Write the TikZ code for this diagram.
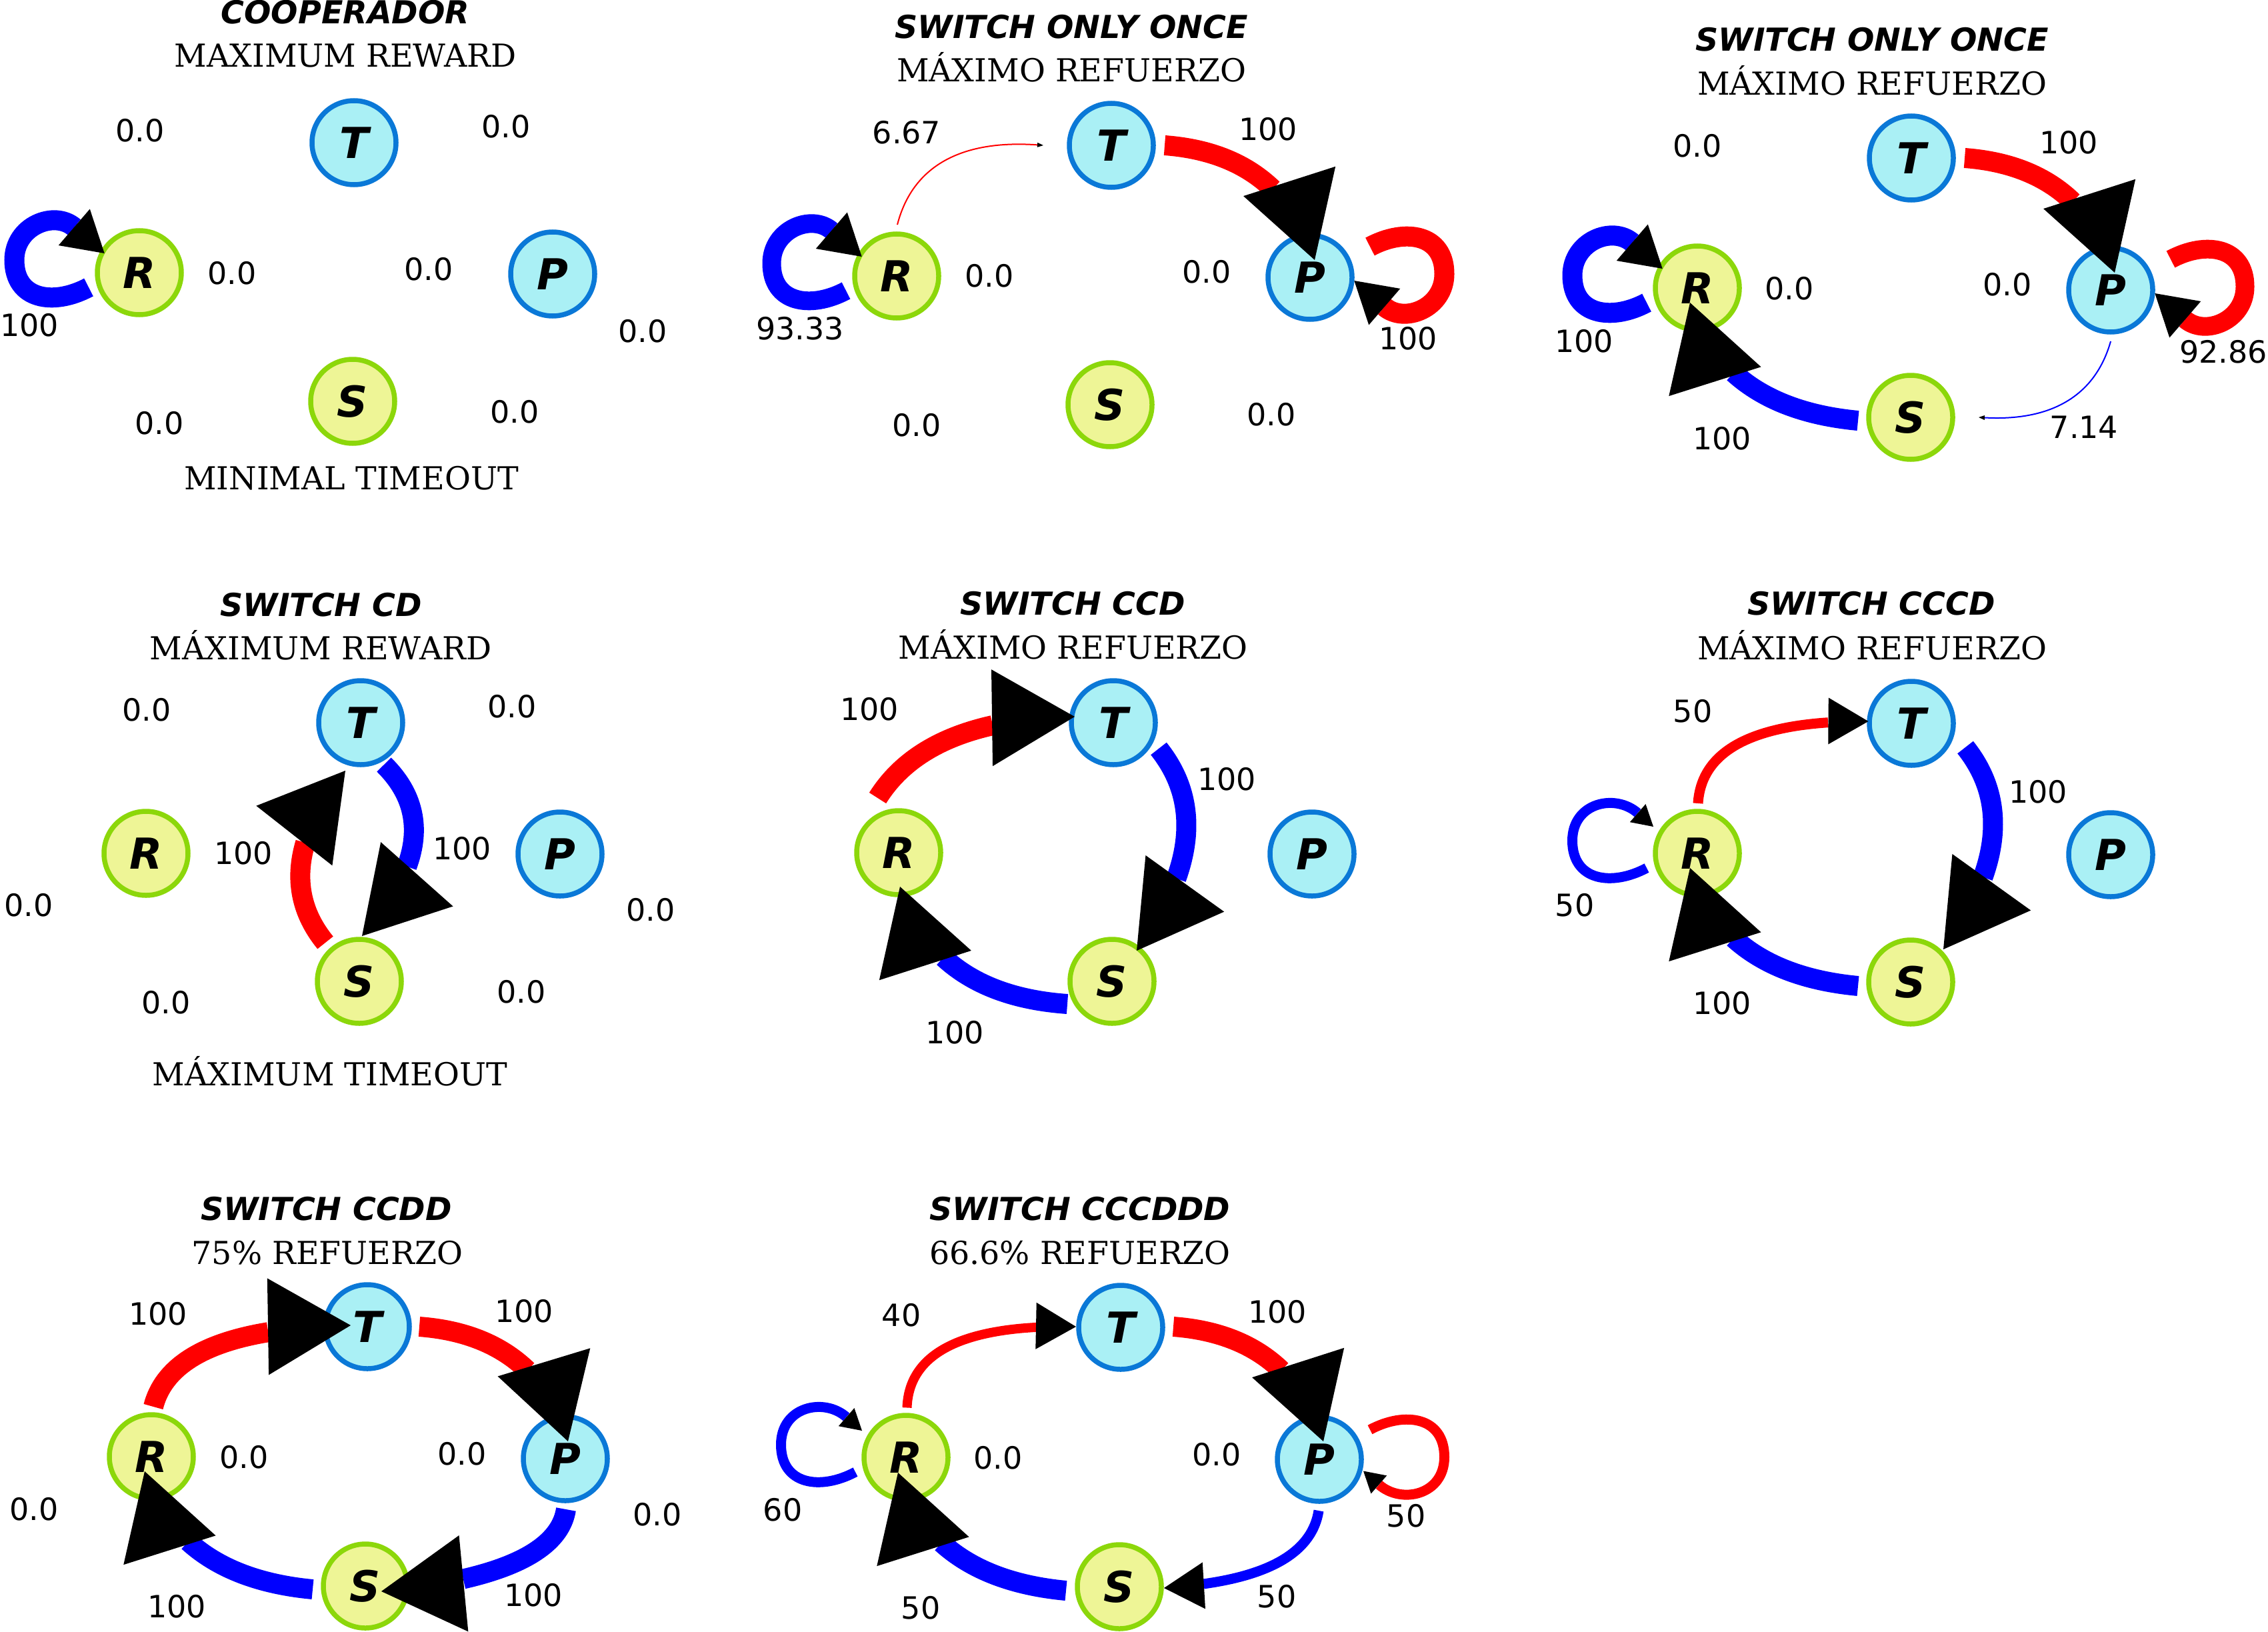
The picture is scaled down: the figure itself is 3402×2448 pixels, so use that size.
\documentclass[tikz,border=0pt]{standalone}
\usepackage{fontspec}
\setmainfont{DejaVu Serif}
\newfontfamily\dvsans{DejaVu Sans}
\newfontfamily\dvserif{DejaVu Serif}
\usetikzlibrary{arrows.meta,calc}
\definecolor{tpf}{RGB}{170,240,245}
\definecolor{tpb}{RGB}{10,120,215}
\definecolor{srf}{RGB}{238,245,150}
\definecolor{srb}{RGB}{140,215,10}
\definecolor{ered}{RGB}{255,0,0}
\definecolor{eblue}{RGB}{0,0,255}
\tikzset{
  nd/.style={circle, line width=7.5pt, minimum size=126pt, inner sep=0pt, font=\fontsize{64}{77}\dvsans\bfseries\itshape},
  tp/.style={nd, draw=tpb, fill=tpf},
  sr/.style={nd, draw=srb, fill=srf},
  num/.style={inner sep=0pt, font=\fontsize{46}{55}\dvsans},
  ttl/.style={inner sep=0pt, anchor=base, font=\fontsize{47.5}{57}\dvsans\bfseries\itshape},
  sub/.style={inner sep=0pt, anchor=base, font=\fontsize{47.5}{57}\dvserif},
  re/.style={draw=ered, line width=#1},
  be/.style={draw=eblue, line width=#1},
  arr/.style={draw=black, line width=0.4pt},
  tipbig/.style={-{Triangle[length=124pt, width=145pt, line width=0pt, color=black]}},
  tipmid/.style={-{Triangle[length=60pt, width=70pt, line width=0pt, color=black]}},
  tiploop/.style={-{Triangle[length=60pt, width=72pt, line width=0pt, color=black]}},
  tipsmall/.style={-{Triangle[length=31pt, width=36pt, line width=0pt, color=black]}},
  tiptiny/.style={-{Triangle[length=9pt, width=7pt, line width=0pt, color=black]}},
}
% left self-loop at R
\newcommand\lloopbig[2]{%
 \draw[be=#2] ($(#1)+(-76,22)$) .. controls ($(#1)+(-128.8,50.2)$) and ($(#1)+(-187.5,41)$) .. ($(#1)+(-187.5,-19)$) .. controls ($(#1)+(-187.5,-70)$) and ($(#1)+(-127.7,-94.2)$) .. ($(#1)+(-97.5,-68)$);
 \draw[arr, tiploop] ($(#1)+(-97.5,-68)$) -- ($(#1)+(-52.3,-29)$);}
\newcommand\lloopsmall[2]{%
 \draw[be=#2] ($(#1)+(-76,22)$) .. controls ($(#1)+(-128.8,50.2)$) and ($(#1)+(-187.5,41)$) .. ($(#1)+(-187.5,-19)$) .. controls ($(#1)+(-187.5,-76)$) and ($(#1)+(-123.3,-90.2)$) .. ($(#1)+(-89.5,-60.5)$);
 \draw[arr, tipsmall] ($(#1)+(-89.5,-60.5)$) -- ($(#1)+(-66,-40)$);}
% right self-loop at P
\newcommand\rloopbig[2]{%
 \draw[re=#2] ($(#1)+(90,-46)$) .. controls ($(#1)+(142.8,-74.2)$) and ($(#1)+(201.5,-65)$) .. ($(#1)+(201.5,-5)$) .. controls ($(#1)+(201.5,46)$) and ($(#1)+(141.7,70.2)$) .. ($(#1)+(111.5,44)$);
 \draw[arr, tiploop] ($(#1)+(111.5,44)$) -- ($(#1)+(66.3,5)$);}
\newcommand\rloopsmall[2]{%
 \draw[re=#2] ($(#1)+(76,-44.5)$) .. controls ($(#1)+(128.8,-72.7)$) and ($(#1)+(187.5,-63.5)$) .. ($(#1)+(187.5,-3.5)$) .. controls ($(#1)+(187.5,53.5)$) and ($(#1)+(123.3,67.7)$) .. ($(#1)+(89.5,38)$);
 \draw[arr, tipsmall] ($(#1)+(89.5,38)$) -- ($(#1)+(66,17.5)$);}
\begin{document}
\begin{tikzpicture}[x=1pt,y=-1pt]
\fill[white] (0,0) rectangle (3402,2448);
\useasboundingbox (0,0) rectangle (3402,2448);

% ---------------- Panel 1 ----------------
\node[ttl] (t1) at (518,36) {COOPERADOR};
\node[sub] (s1) at (518,101) {MAXIMUM REWARD};
\node[sub] (b1) at (527,734) {MINIMAL TIMEOUT};
\node[tp] (T1) at (531,214) {T};
\node[sr] (R1) at (209,409) {R};
\node[tp] (P1) at (829,411) {P};
\node[sr] (S1) at (529,602) {S};
\lloopbig{R1}{30pt}
\node[num] (l1a) at (210,196) {0.0};
\node[num] (l1b) at (759,190) {0.0};
\node[num] (l1c) at (348,410) {0.0};
\node[num] (l1d) at (643,404) {0.0};
\node[num] (l1e) at (964,497) {0.0};
\node[num] (l1f) at (239,635) {0.0};
\node[num] (l1g) at (772,618) {0.0};
\node[num] (l1h) at (44,488) {100};

% ---------------- Panel 2 ----------------
\node[ttl] (t2) at (1607,58) {SWITCH ONLY ONCE};
\node[sub] (s2) at (1607,123) {MÁXIMO REFUERZO};
\node[tp] (T2) at (1667,218) {T};
\node[sr] (R2) at (1345,414) {R};
\node[tp] (P2) at (1965,416) {P};
\node[sr] (S2) at (1665,607) {S};
\lloopbig{R2}{28pt}
\draw[re=2pt, tiptiny] ($(R2)+(1,-77)$) .. controls (1368.7,249) and (1441.7,209.3) .. ($(T2)+(-102,0)$);
\draw[re=30pt] ($(T2)+(80,0)$) .. controls (1815.1,223.1) and (1869.1,244.9) .. (1909.1,283.6);
\draw[arr, tipbig] (1934.1,271.9) -- ($(P2)+(7,-26)$);
\rloopbig{P2}{30pt}
\node[num] (l2a) at (1360,199) {6.67};
\node[num] (l2b) at (1902,194) {100};
\node[num] (l2c) at (1484,414) {0.0};
\node[num] (l2d) at (1810,408) {0.0};
\node[num] (l2e) at (1200,493) {93.33};
\node[num] (l2f) at (2112,508) {100};
\node[num] (l2g) at (1375,638) {0.0};
\node[num] (l2h) at (1907,622) {0.0};

% ---------------- Panel 3 ----------------
\node[ttl] (t3) at (2808,76.5) {SWITCH ONLY ONCE};
\node[sub] (s3) at (2808,142.5) {MÁXIMO REFUERZO};
\node[tp] (T3) at (2867,237) {T};
\node[sr] (R3) at (2546,432) {R};
\node[tp] (P3) at (3166,435) {P};
\node[sr] (S3) at (2866,626) {S};
\lloopbig{R3}{30pt}
\draw[re=30pt] ($(T3)+(80,0)$) .. controls (3015.1,242.1) and (3069.1,263.9) .. (3109.1,302.6);
\draw[arr, tipbig] (3134.1,290.9) -- ($(P3)+(6,-26)$);
\rloopbig{P3}{28pt}
\draw[be=30pt] ($(S3)+(-79,5)$) .. controls (2706.9,623.5) and (2644.6,599.5) .. (2600.3,559.1);
\draw[arr, tipbig] (2572.4,572.2) -- ($(R3)+(-11,22)$);
\draw[be=2pt, tiptiny] ($(P3)+(0,77)$) .. controls (3142.7,594) and (3076.7,632) .. ($(S3)+(102,0)$);
\node[num] (l3a) at (2546,219) {0.0};
\node[num] (l3b) at (3103,214) {100};
\node[num] (l3c) at (2684,433) {0.0};
\node[num] (l3d) at (3011,427) {0.0};
\node[num] (l3e) at (2376,512) {100};
\node[num] (l3f) at (3335,528) {92.86};
\node[num] (l3g) at (2583,658) {100};
\node[num] (l3h) at (3126,641) {7.14};

% ---------------- Panel 4 ----------------
\node[ttl] (t4) at (481.5,924) {SWITCH CD};
\node[sub] (s4) at (481,989) {MÁXIMUM REWARD};
\node[sub] (b4) at (495,1628) {MÁXIMUM TIMEOUT};
\node[tp] (T4) at (541,1084) {T};
\node[sr] (R4) at (219,1280) {R};
\node[tp] (P4) at (840,1281) {P};
\node[sr] (S4) at (539,1472) {S};
\draw[re=30pt] ($(S4)+(-51,-58)$) .. controls (451.6,1369.4) and (441.6,1319.3) .. (458.1,1264);
\draw[arr, tipbig] (441.4,1253.5) -- ($(T4)+(-23,72)$);
\draw[be=30pt] ($(T4)+(35,63)$) .. controls (620.4,1191) and (631.8,1241.9) .. (610.3,1299.8);
\draw[arr, tipbig] (625.4,1311.3) -- ($(S4)+(4,-68)$);
\node[num] (l4a) at (220,1065) {0.0};
\node[num] (l4b) at (768,1060) {0.0};
\node[num] (l4c) at (365,1280) {100};
\node[num] (l4d) at (693,1273) {100};
\node[num] (l4e) at (43,1358) {0.0};
\node[num] (l4f) at (976,1365) {0.0};
\node[num] (l4g) at (249,1504) {0.0};
\node[num] (l4h) at (782,1488) {0.0};

% ---------------- Panel 5 ----------------
\node[ttl] (t5) at (1609,922) {SWITCH CCD};
\node[sub] (s5) at (1609.5,988) {MÁXIMO REFUERZO};
\node[tp] (T5) at (1670,1084) {T};
\node[sr] (R5) at (1348,1279) {R};
\node[tp] (P5) at (1968,1281) {P};
\node[sr] (S5) at (1668,1472) {S};
\draw[re=30pt] ($(R5)+(-31.5,-82)$) .. controls (1350.8,1142.3) and (1408.3,1105.9) .. (1489.1,1088);
\draw[arr, tipbig] (1488,1076.7) -- ($(T5)+(-58,-9)$);
\draw[be=30pt] ($(T5)+(68,39)$) .. controls (1782.3,1178.7) and (1791.1,1243.6) .. (1764.4,1317.8);
\draw[arr, tipbig] (1777.3,1325.3) -- ($(S5)+(37,-46)$);
\draw[be=30pt] ($(S5)+(-67,34)$) .. controls (1521.4,1500.4) and (1459.5,1477.1) .. (1415.2,1436);
\draw[arr, tipbig] (1387.9,1448.1) -- ($(R5)+(2,51)$);
\node[num] (l5a) at (1304,1064) {100};
\node[num] (l5b) at (1840,1169) {100};
\node[num] (l5c) at (1432,1549) {100};

% ---------------- Panel 6 ----------------
\node[ttl] (t6) at (2807,922) {SWITCH CCCD};
\node[sub] (s6) at (2808,989) {MÁXIMO REFUERZO};
\node[tp] (T6) at (2867,1085) {T};
\node[sr] (R6) at (2546,1280) {R};
\node[tp] (P6) at (3166,1282) {P};
\node[sr] (S6) at (2866,1473) {S};
\lloopsmall{R6}{15pt}
\draw[re=15pt] ($(R6)+(1,-75)$) .. controls (2551.6,1132.5) and (2616.7,1092.1) .. (2742.1,1083.7);
\draw[arr, tipmid] (2741.5,1081.5) -- ($(T6)+(-64.5,-3)$);
\draw[be=30pt] ($(T6)+(81,36)$) .. controls (2992.3,1176.7) and (3001.1,1241.6) .. (2974.4,1315.8);
\draw[arr, tipbig] (2987.3,1323.3) -- ($(S6)+(49,-49)$);
\draw[be=30pt] ($(S6)+(-79,6)$) .. controls (2706.9,1471.5) and (2644.6,1447.5) .. (2600.3,1407.1);
\draw[arr, tipbig] (2572.4,1420.2) -- ($(R6)+(-11,22)$);
\node[num] (l6a) at (2539,1067) {50};
\node[num] (l6b) at (3057,1188) {100};
\node[num] (l6c) at (2362,1358) {50};
\node[num] (l6d) at (2583,1505) {100};

% ---------------- Panel 7 ----------------
\node[ttl] (t7) at (489.6,1830) {SWITCH CCDD};
\node[sub] (s7) at (491,1896) {75\% REFUERZO};
\node[tp] (T7) at (551,1990) {T};
\node[sr] (R7) at (227,2185) {R};
\node[tp] (P7) at (848,2188) {P};
\node[sr] (S7) at (548,2379) {S};
\draw[re=30pt] ($(R7)+(3,-75)$) .. controls (244.7,2052) and (302.2,2014.7) .. (402.4,1998.2);
\draw[arr, tipbig] (402,1989.9) -- ($(T7)+(-25,-2)$);
\draw[re=30pt] ($(T7)+(78,0)$) .. controls (697.1,1995.1) and (751.1,2016.9) .. (791.1,2055.6);
\draw[arr, tipbig] (816.1,2043.9) -- ($(P7)+(4,-26)$);
\draw[be=30pt] ($(P7)+(1,76)$) .. controls (841.7,2311.8) and (790.3,2346.7) .. (694.8,2368.5);
\draw[arr, tipbig] (695.4,2375.2) -- ($(S7)+(24,8)$);
\draw[be=30pt] ($(S7)+(-79,5)$) .. controls (388.9,2376.5) and (326.6,2352.5) .. (282.3,2312.1);
\draw[arr, tipbig] (254.4,2325.2) -- ($(R7)+(-10,22)$);
\node[num] (l7a) at (237,1971) {100};
\node[num] (l7b) at (786,1967) {100};
\node[num] (l7c) at (366,2186) {0.0};
\node[num] (l7d) at (693,2181) {0.0};
\node[num] (l7e) at (51,2264) {0.0};
\node[num] (l7f) at (986,2272) {0.0};
\node[num] (l7g) at (265,2410) {100};
\node[num] (l7h) at (800,2393) {100};

% ---------------- Panel 8 ----------------
\node[ttl] (t8) at (1620,1830) {SWITCH CCCDDD};
\node[sub] (s8) at (1620,1896) {66.6\% REFUERZO};
\node[tp] (T8) at (1681,1991) {T};
\node[sr] (R8) at (1359,2186) {R};
\node[tp] (P8) at (1979,2189) {P};
\node[sr] (S8) at (1679,2380) {S};
\lloopsmall{R8}{15pt}
\draw[re=14pt] ($(R8)+(1.5,-74.5)$) .. controls (1363.1,2038) and (1427.7,1997.8) .. (1554.3,1990.9);
\draw[arr, tipmid] (1554,1988.8) -- ($(T8)+(-67,-1)$);
\draw[re=30pt] ($(T8)+(79,-1)$) .. controls (1828.1,1995.1) and (1882.1,2016.9) .. (1922.1,2055.6);
\draw[arr, tipbig] (1947.1,2043.9) -- ($(P8)+(6,-27)$);
\rloopsmall{P8}{15pt}
\draw[be=15pt] ($(P8)+(-1,77)$) .. controls (1968.9,2324.5) and (1911.3,2361.2) .. (1805.3,2375.9);
\draw[arr, tipmid] (1805.9,2378.4) -- ($(S8)+(67,2)$);
\draw[be=30pt] ($(S8)+(-80,6)$) .. controls (1518.9,2378.5) and (1456.6,2354.5) .. (1412.3,2314.1);
\draw[arr, tipbig] (1384.4,2327.2) -- ($(R8)+(-12,23)$);
\node[num] (l8a) at (1352,1973) {40};
\node[num] (l8b) at (1916,1968) {100};
\node[num] (l8c) at (1497,2187) {0.0};
\node[num] (l8d) at (1825,2182) {0.0};
\node[num] (l8e) at (1174,2265) {60};
\node[num] (l8f) at (2109,2274) {50};
\node[num] (l8g) at (1381,2412) {50};
\node[num] (l8h) at (1915,2395) {50};
\end{tikzpicture}
\end{document}
